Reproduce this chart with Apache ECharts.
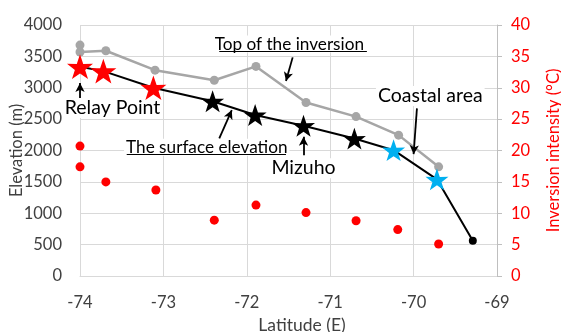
<!DOCTYPE html>
<html><head><meta charset="utf-8">
<script src="https://cdn.jsdelivr.net/npm/echarts@6/dist/echarts.min.js"></script>
<style>html,body{margin:0;padding:0;background:#fff}#c{width:561px;height:332px}</style>
</head><body><div id="c"></div>
<script>
// ---- data ----
var xTicks = [-74, -73, -72, -71, -70, -69];
// Top of the inversion (gray)
var topLat  = [-74.0, -74.0, -73.69, -73.10, -72.39, -71.89, -71.29, -70.69, -70.18, -69.70];
var topElev = [3680, 3570, 3590, 3280, 3120, 3340, 2765, 2540, 2245, 1740];
// Surface elevation (black line) by station group
var relayLat = [-74.0, -73.72, -73.12];
var relayElev = [3335, 3265, 3000];
var inlandLat = [-72.41, -71.90, -71.32, -70.71];
var inlandElev = [2785, 2565, 2395, 2190];
var coastLat = [-70.24, -69.72];
var coastElev = [2005, 1540];
var endLat = [-69.29];
var endElev = [560];
// Inversion intensity (red dots, right axis)
var intLat = [-74.0, -74.0, -73.69, -73.09, -72.39, -71.89, -71.29, -70.69, -70.19, -69.70];
var intVal = [20.7, 17.4, 15.0, 13.7, 8.9, 11.3, 10.1, 8.8, 7.4, 5.1];
// annotation texts [lat, elev, text]
var labels = [
  [-71.49, 3697, 'Top of the inversion'],
  [-73.61, 2676, 'Relay Point'],
  [-72.48, 2053, 'The surface elevation'],
  [-71.32, 1718, 'Mizuho'],
  [-69.80, 2867, 'Coastal area']
];
var underlines = [
  [[-72.33, 3585], [-70.56, 3585]],
  [[-73.44, 1942], [-71.53, 1942]]
];
var arrows = [
  [[-74.0, 2835], [-74.0, 3074]],
  [[-71.45, 3484], [-71.53, 3106]],
  [[-72.33, 2192], [-72.18, 2644]],
  [[-71.32, 1926], [-71.32, 2218]],
  [[-69.96, 2671], [-70.00, 1942]]
];

function zip(a, b) { return a.map(function (v, i) { return [v, b[i]]; }); }
var surfLat = relayLat.concat(inlandLat, coastLat, endLat);
var surfElev = relayElev.concat(inlandElev, coastElev, endElev);

var STAR = 'path://M50,0 L61.8,35.1 L97.6,34.5 L68.8,56.9 L79.4,90.5 L50,70 L20.6,90.5 L31.2,56.9 L2.4,34.5 L38.2,35.1 Z';
var FONT = 'Lato';
var chart = echarts.init(document.getElementById('c'), null, {renderer: 'canvas'});
chart.setOption({
  animation: false,
  textStyle: {fontFamily: FONT},
  grid: {left: 80, right: 64, top: 25, bottom: 56, containLabel: false, outerBoundsMode: 'none'},
  xAxis: {
    type: 'value', min: -74, max: -69, interval: 1,
    name: 'Latitude (E)', nameLocation: 'middle', nameGap: 38,
    nameTextStyle: {fontFamily: FONT, fontSize: 17.5, color: '#404040', padding: [0, 0, 0, 27]},
    axisLine: {show: true, lineStyle: {color: '#d9d9d9', width: 1}},
    axisTick: {show: false},
    axisLabel: {fontFamily: FONT, fontSize: 16.5, color: '#404040', margin: 18},
    splitLine: {show: true, lineStyle: {color: '#d9d9d9', width: 1}}
  },
  yAxis: [{
    type: 'value', min: 0, max: 4000, interval: 500,
    name: 'Elevation (m)', nameLocation: 'middle', nameGap: 55, nameRotate: 90,
    nameMoveOverlap: false,
    nameTextStyle: {fontFamily: FONT, fontSize: 16.5, color: '#404040'},
    axisLine: {show: false}, axisTick: {show: false},
    axisLabel: {fontFamily: FONT, fontSize: 16.5, color: '#404040', margin: 18,
      formatter: function (v) { return String(v); }},
    splitLine: {show: true, lineStyle: {color: '#d9d9d9', width: 1}}
  }, {
    type: 'value', min: 0, max: 40, interval: 5, position: 'right',
    name: 'Inversion intensity (°C)', nameLocation: 'middle', nameGap: 48, nameRotate: 90,
    nameTextStyle: {fontFamily: FONT, fontSize: 16.5, color: '#ff0000'},
    axisLine: {show: true, lineStyle: {color: '#bfbfbf', width: 1}},
    axisTick: {show: true, length: 5, lineStyle: {color: '#bfbfbf'}},
    axisLabel: {fontFamily: FONT, fontSize: 16.5, color: '#ff0000', margin: 14},
    splitLine: {show: false}
  }],
  series: [
    {
      type: 'line', name: 'Top of the inversion', data: zip(topLat, topElev),
      symbol: 'circle', symbolSize: 9, z: 3,
      lineStyle: {color: '#a6a6a6', width: 2.5}, itemStyle: {color: '#a6a6a6', opacity: 1},
      markPoint: {
        symbol: 'rect', symbolSize: 1, itemStyle: {color: 'rgba(0,0,0,0)'},
        label: {show: true, position: 'inside', color: '#000', fontFamily: FONT},
        data: labels.map(function (l, i) {
          return {coord: [l[0], l[1]], value: l[2],
            label: {formatter: l[2], fontSize: (i === 0 || i === 2) ? 17.2 : 19.5,
              backgroundColor: '#fff', padding: [0, 2]}};
        })
      },
      markLine: {
        silent: true, symbol: ['none', 'none'], z: 6,
        lineStyle: {color: '#000', width: 1, type: 'solid'},
        label: {show: false},
        data: underlines.map(function (u) { return [{coord: u[0]}, {coord: u[1]}]; })
      }
    },
    {
      type: 'line', name: 'Surface elevation', data: zip(surfLat, surfElev),
      symbol: 'none', z: 4, lineStyle: {color: '#000', width: 2},
      markLine: {
        silent: true, symbol: ['none', 'arrow'], symbolSize: [7, 9], z: 6,
        lineStyle: {color: '#000', width: 1.8, type: 'solid'},
        label: {show: false},
        data: arrows.map(function (a) { return [{coord: a[0]}, {coord: a[1]}]; })
      }
    },
    {type: 'scatter', data: zip(relayLat, relayElev), symbol: STAR, symbolKeepAspect: true,
      symbolSize: 26, itemStyle: {color: '#ff0000', opacity: 1}, z: 5},
    {type: 'scatter', data: zip(inlandLat, inlandElev), symbol: STAR, symbolKeepAspect: true,
      symbolSize: 23, itemStyle: {color: '#000', opacity: 1}, z: 5},
    {type: 'scatter', data: zip(coastLat, coastElev), symbol: STAR, symbolKeepAspect: true,
      symbolSize: 23, itemStyle: {color: '#00b0f0', opacity: 1}, z: 5},
    {type: 'scatter', data: zip(endLat, endElev), symbol: 'circle',
      symbolSize: 8, itemStyle: {color: '#000', opacity: 1}, z: 5},
    {type: 'scatter', yAxisIndex: 1, data: zip(intLat, intVal), symbol: 'circle',
      symbolSize: 9, itemStyle: {color: '#ff0000', opacity: 1}, z: 5}
  ]
});
</script></body></html>
